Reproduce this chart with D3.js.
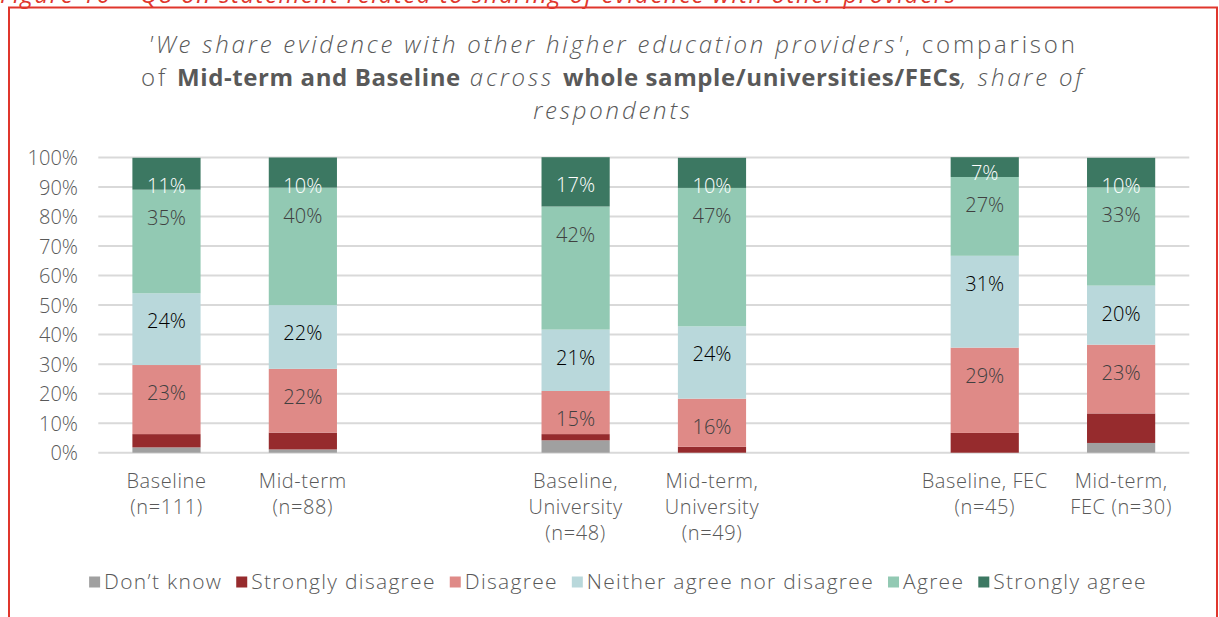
<!DOCTYPE html>
<html>
<head>
<meta charset="utf-8">
<script src="https://cdn.jsdelivr.net/npm/d3@7"></script>
<style>
  html, body { margin: 0; padding: 0; background: #fff; }
  svg { display: block; font-family: "Open Sans", sans-serif; }
</style>
</head>
<body>
<svg id="chart" width="1219" height="617"></svg>
<script>
// ---------- data ----------
const categories = [
  "Baseline (n=111)", "Mid-term (n=88)", "gap1",
  "Baseline, University (n=48)", "Mid-term, University (n=49)", "gap2",
  "Baseline, FEC (n=45)", "Mid-term, FEC (n=30)"
];
const categoryLines = [
  ["Baseline", "(n=111)"], ["Mid-term", "(n=88)"], [],
  ["Baseline,", "University", "(n=48)"], ["Mid-term,", "University", "(n=49)"], [],
  ["Baseline, FEC", "(n=45)"], ["Mid-term,", "FEC (n=30)"]
];
const barCategories = [
  "Baseline (n=111)", "Mid-term (n=88)",
  "Baseline, University (n=48)", "Mid-term, University (n=49)",
  "Baseline, FEC (n=45)", "Mid-term, FEC (n=30)"
];
const seriesNames = ["Don\u2019t know", "Strongly disagree", "Disagree", "Neither agree nor disagree", "Agree", "Strongly agree"];
const dontKnow         = [1.8, 1.1, 4.2, 0.0, 0.0, 3.3];
const stronglyDisagree = [4.5, 5.7, 2.1, 2.0, 6.7, 10.0];
const disagree         = [23.4, 21.6, 14.6, 16.3, 28.9, 23.3];
const neither          = [24.3, 21.6, 20.8, 24.5, 31.1, 20.0];
const agree            = [35.1, 39.8, 41.7, 46.9, 26.7, 33.3];
const stronglyAgree    = [10.8, 10.2, 16.7, 10.2, 6.7, 10.0];
const seriesValues = [dontKnow, stronglyDisagree, disagree, neither, agree, stronglyAgree];
const yTicks = [0, 10, 20, 30, 40, 50, 60, 70, 80, 90, 100];

// ---------- styles ----------
const colors = ["#a0a0a0", "#962b2d", "#df8a87", "#b9d8db", "#92c9b3", "#3c7862"];
const labelColors = [null, null, "#404040", "#000000", "#404040", "#ffffff"];
const textColor = "#595959";

const svg = d3.select("#chart");

// frame
svg.append("rect").attr("x", 9).attr("y", 7.5).attr("width", 1208).attr("height", 640)
  .attr("fill", "none").attr("stroke", "#e0362c").attr("stroke-width", 2);

// figure caption (cut off at the top, as in the source)
svg.append("text").attr("x", 0).attr("y", 3)
  .attr("font-size", 24).attr("font-style", "italic").attr("fill", "#e0362c")
  .attr("letter-spacing", 1.5)
  .text("Figure 10 \u2013 Q8 on statement related to sharing of evidence with other providers");

// title
const title = svg.append("g").attr("fill", textColor);
const L = { size: 24, weight: 300, ls: 2.8 };
const B = { size: 24, weight: 700, ls: 0.6 };
const titleLines = [
  [["'We share evidence with other higher education providers'", "italic", L], [", comparison", "normal", L]],
  [["of ", "normal", L], ["Mid-term and Baseline", "normal", B], [" across ", "italic", L], ["whole sample/universities/FECs", "normal", B], [", share of", "italic", L]],
  [["respondents", "italic", L]]
];
const titleY = [53, 86, 119];
titleLines.forEach((parts, i) => {
  const t = title.append("text").attr("x", 613).attr("y", titleY[i]).attr("text-anchor", "middle");
  parts.forEach(p => t.append("tspan")
    .attr("font-style", p[1]).attr("font-weight", p[2].weight)
    .attr("font-size", p[2].size).attr("letter-spacing", p[2].ls)
    .text(p[0]));
});

// scales
const x = d3.scaleBand().domain(categories).range([98.3, 1189.3]).paddingInner(0).paddingOuter(0);
const y = d3.scaleLinear().domain([0, 100]).range([452.7, 157.5]);
const barW = x.bandwidth() * 0.5;

// gridlines
svg.append("g").selectAll("line").data(yTicks).join("line")
  .attr("x1", x.range()[0]).attr("x2", x.range()[1])
  .attr("y1", d => y(d)).attr("y2", d => y(d))
  .attr("stroke", "#d9d9d9").attr("stroke-width", 2);

// y axis
const yAxis = d3.axisLeft(y).tickValues(yTicks).tickFormat(d => d + "%").tickSize(0).tickPadding(0);
const yg = svg.append("g").attr("transform", "translate(78,0)").call(yAxis);
yg.select(".domain").remove();
yg.selectAll("text").attr("font-size", 20).attr("fill", textColor).attr("font-family", "Open Sans")
  .attr("font-weight", 300).attr("dy", "0.36em");

// stacked data
const rows = barCategories.map((c, i) => {
  const r = { cat: c };
  seriesNames.forEach((s, k) => r[s] = seriesValues[k][i]);
  return r;
});
const stacked = d3.stack().keys(seriesNames)(rows);

const bars = svg.append("g");
stacked.forEach((layer, k) => {
  bars.append("g").selectAll("rect").data(layer).join("rect")
    .attr("x", d => x(d.data.cat) + (x.bandwidth() - barW) / 2)
    .attr("width", barW)
    .attr("y", d => y(d[1]))
    .attr("height", d => Math.max(0, y(d[0]) - y(d[1])))
    .attr("fill", colors[k]);
});

// data labels (inside end)
const labels = svg.append("g").attr("font-size", 20).attr("font-weight", 300).attr("text-anchor", "middle");
stacked.forEach((layer, k) => {
  if (!labelColors[k]) return;
  labels.append("g").selectAll("text").data(layer).join("text")
    .attr("x", d => x(d.data.cat) + x.bandwidth() / 2)
    .attr("y", d => {
      const top = y(d[1]), bot = y(d[0]);
      const h = bot - top;
      const c = h >= 24 ? top + 28 : (top + bot) / 2 + 6;
      return c + 7;
    })
    .attr("fill", labelColors[k])
    .text(d => Math.round(d[1] - d[0]) + "%");
});

// category labels
const catG = svg.append("g").attr("font-size", 20).attr("font-weight", 300).attr("fill", textColor)
  .attr("text-anchor", "middle").attr("letter-spacing", 0.6);
categories.forEach((c, i) => {
  categoryLines[i].forEach((line, j) => {
    catG.append("text").attr("x", x(c) + x.bandwidth() / 2).attr("y", 488 + j * 26).text(line);
  });
});

// legend
const legend = svg.append("g").attr("font-size", 21).attr("font-weight", 300).attr("fill", textColor)
  .attr("letter-spacing", 1.3);
const items = seriesNames.map((s, k) => {
  const g = legend.append("g");
  g.append("rect").attr("width", 11).attr("height", 11).attr("y", -5.5).attr("fill", colors[k]);
  const t = g.append("text").attr("x", 15).attr("y", 7).text(s);
  return { g, w: 15 + t.node().getComputedTextLength() };
});
const gap = 14;
const total = d3.sum(items, d => d.w) + gap * (items.length - 1);
let lx = 618 - total / 2;
items.forEach(it => { it.g.attr("transform", `translate(${lx},582)`); lx += it.w + gap; });
</script>
</body>
</html>
